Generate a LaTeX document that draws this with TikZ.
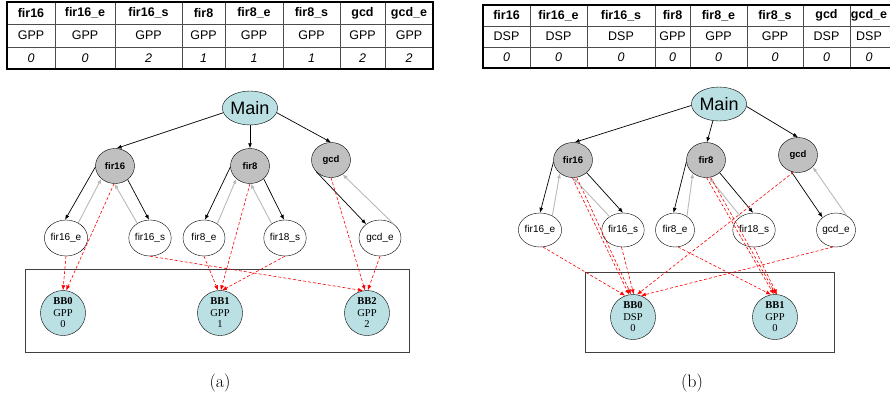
\documentclass[tikz,border=0pt]{standalone}
\usepackage{fontspec}
\newfontfamily\arialf{Liberation Sans}
\newfontfamily\timesf{Liberation Serif}
\usetikzlibrary{shapes.geometric,arrows.meta}
\definecolor{bbcyan}{RGB}{186,224,228}
\definecolor{taskgray}{RGB}{192,192,192}
\colorlet{backgray}{gray!55}
\tikzset{>={Latex[length=5pt,width=4pt]}}
\tikzset{
  mainnode/.style = {ellipse, draw, fill=bbcyan, inner sep=0pt, minimum width=40pt,
    minimum height=34pt, font=\arialf\fontsize{18}{20}\selectfont},
  tasknode/.style = {ellipse, draw, fill=taskgray, inner sep=0pt, minimum width=39pt,
    minimum height=35pt, font=\arialf\bfseries\fontsize{9.5}{11}\selectfont},
  subnode/.style = {ellipse, draw, fill=white, inner sep=0pt, minimum width=42pt,
    minimum height=36pt, font=\arialf\fontsize{10}{12}\selectfont},
  bbnode/.style = {circle, draw, fill=bbcyan, inner sep=0pt, minimum size=45pt,
    align=center, font=\timesf\fontsize{10.5}{11.5}\selectfont},
  call/.style = {->, line width=0.7pt},
  ret/.style = {->, backgray, line width=0.9pt},
  map/.style = {->, red, line width=0.6pt, dash pattern=on 3pt off 2pt},
  procbox/.style = {draw=black!75, line width=0.8pt},
  tabline/.style = {draw=black!70, line width=0.6pt},
  tabframe/.style = {draw=black, line width=1.4pt},
  tabhead/.style = {font=\arialf\bfseries\fontsize{12.5}{14}\selectfont},
  tabcell/.style = {font=\arialf\fontsize{12.5}{14}\selectfont},
  tabnum/.style = {font=\arialf\itshape\fontsize{12.5}{14}\selectfont},
  caption/.style = {font=\fontsize{18}{20}\selectfont}
}

\begin{document}
\begin{tikzpicture}[x=1pt,y=-1pt]
  \clip (0,0) rectangle (890,399);

  % mapping tables
  \foreach \y in {24,47} \draw[tabline] (7,\y) -- (433,\y);
  \foreach \x in {55,115,182,225,283,340,385} \draw[tabline] (\x,2) -- (\x,69);
  \draw[tabframe] (7,2) rectangle (433,69);
  \foreach \xa/\xb/\h/\p/\n [count=\i] in {7/55/fir16/GPP/0, 55/115/fir16\_e/GPP/0,
      115/182/fir16\_s/GPP/2, 182/225/fir8/GPP/1, 225/283/fir8\_e/GPP/1,
      283/340/fir8\_s/GPP/1, 340/385/gcd/GPP/2, 385/433/gcd\_e/GPP/2} {
    \node[tabhead] (ta-h\i) at ({(\xa+\xb)/2},13) {\h};
    \node[tabcell] (ta-p\i) at ({(\xa+\xb)/2},35.5) {\p};
    \node[tabnum] (ta-n\i) at ({(\xa+\xb)/2},58) {\n};
  }

  \foreach \y in {26,47} \draw[tabline] (483,\y) -- (900,\y);
  \foreach \x in {530,587,655,690,747,803,850} \draw[tabline] (\x,5) -- (\x,68);
  \draw[tabframe] (483,5) rectangle (900,68);
  \foreach \xa/\xb/\h/\p/\n [count=\i] in {483/530/fir16/DSP/0, 530/587/fir16\_e/DSP/0,
      587/655/fir16\_s/DSP/0, 655/690/fir8/GPP/0, 690/747/fir8\_e/GPP/0,
      747/803/fir8\_s/GPP/0, 803/850/gcd/DSP/0, 850/888/gcd\_e/DSP/0} {
    \node[tabhead] (tb-h\i) at ({(\xa+\xb)/2},15.5) {\h};
    \node[tabcell] (tb-p\i) at ({(\xa+\xb)/2},36.5) {\p};
    \node[tabnum] (tb-n\i) at ({(\xa+\xb)/2},57.5) {\n};
  }

  % (a)
  \draw[procbox] (25,269) rectangle (409,352);
  \node[mainnode] (mainA) at (250,108) {Main};
  \node[tasknode] (fir16A) at (115,166) {fir16};
  \node[tasknode] (fir8A) at (250,166) {fir8};
  \node[tasknode] (gcdA) at (331,160) {gcd};
  \node[subnode] (fir16eA) at (66,238) {fir16\_e};
  \node[subnode] (fir16sA) at (150,238) {fir16\_s};
  \node[subnode] (fir8eA) at (204,238) {fir8\_e};
  \node[subnode] (fir8sA) at (285,238) {fir18\_s};
  \node[subnode] (gcdeA) at (380,238) {gcd\_e};
  \node[bbnode] (bb0A) at (63,313) {\textbf{BB0}\\GPP\\0};
  \node[bbnode] (bb1A) at (220,313) {\textbf{BB1}\\GPP\\1};
  \node[bbnode] (bb2A) at (367,313) {\textbf{BB2}\\GPP\\2};

  \draw[call] (mainA.190) -- (fir16A.85);
  \draw[call] (mainA.270) -- (fir8A.90);
  \draw[call] (mainA.350) -- (gcdA.90);
  \draw[call] (fir16A.183) -- (fir16eA.93);
  \draw[ret] (fir16eA.51) -- (fir16A.223);
  \draw[call] (fir16A.313) -- (fir16sA.93);
  \draw[ret] (fir16sA.131) -- (fir16A.268);
  \draw[call] (fir8A.183) -- (fir8eA.87);
  \draw[ret] (fir8eA.47) -- (fir8A.223);
  \draw[call] (fir8A.317) -- (fir8sA.93);
  \draw[ret] (fir8sA.133) -- (fir8A.272);
  \draw[call] (gcdA.218) -- (gcdeA.135);
  \draw[ret] (gcdeA.45) -- (gcdA.309);

  \draw[map] (fir16eA.270) -- (bb0A.90);
  \draw[map] (fir16A.267) -- (bb0A.82);
  \draw[map] (fir16sA.270) -- (bb2A.100);
  \draw[map] (fir8eA.270) -- (bb1A.95);
  \draw[map] (fir8A.270) -- (bb1A.88);
  \draw[map] (fir8sA.270) -- (bb1A.85);
  \draw[map] (gcdA.270) -- (bb2A.95);
  \draw[map] (gcdeA.270) -- (bb2A.88);
  \node[caption] (capA) at (220,383) {(a)};

  % (b)
  \draw[procbox] (585,272) rectangle (834,352);
  \node[mainnode, minimum width=38pt] (mainB) at (719,104) {Main};
  \node[tasknode] (fir16B) at (573,160) {fir16};
  \node[tasknode] (fir8B) at (706,160) {fir8};
  \node[tasknode] (gcdB) at (798,155) {gcd};
  \node[subnode, minimum width=39pt, minimum height=34pt] (fir16eB) at (540,230) {fir16\_e};
  \node[subnode, minimum width=39pt, minimum height=34pt] (fir16sB) at (623,230) {fir16\_s};
  \node[subnode, minimum width=39pt, minimum height=34pt] (fir8eB) at (675,230) {fir8\_e};
  \node[subnode, minimum width=39pt, minimum height=34pt] (fir8sB) at (754,230) {fir18\_s};
  \node[subnode, minimum width=39pt, minimum height=34pt] (gcdeB) at (836,230) {gcd\_e};
  \node[bbnode] (bb0B) at (633,317) {\textbf{BB0}\\DSP\\0};
  \node[bbnode] (bb1B) at (775,317) {\textbf{BB1}\\GPP\\0};

  \draw[call] (mainB.183) -- (fir16B.85);
  \draw[call] (mainB.250) -- (fir8B.87);
  \draw[call] (mainB.355) -- (gcdB.90);
  \draw[call] (fir16B.186) -- (fir16eB.90);
  \draw[ret] (fir16eB.49) -- (fir16B.225);
  \draw[call] (fir16B.317) -- (fir16sB.90);
  \draw[ret] (fir16sB.135) -- (fir16B.270);
  \draw[call] (fir8B.185) -- (fir8eB.95);
  \draw[ret] (fir8eB.49) -- (fir8B.225);
  \draw[call] (fir8B.317) -- (fir8sB.93);
  \draw[ret] (fir8sB.135) -- (fir8B.280);
  \draw[call] (gcdB.248) -- (gcdeB.137);
  \draw[ret] (gcdeB.54) -- (gcdB.321);

  \draw[map] (fir16eB.280) -- (bb0B.110);
  \draw[map] (fir16B.268) -- (bb0B.100);
  \draw[map] (fir16B.282) -- (bb0B.95);
  \draw[map] (fir16sB.265) -- (bb0B.88);
  \draw[map] (gcdB.255) -- (bb0B.80);
  \draw[map] (gcdeB.260) -- (bb0B.70);
  \draw[map] (fir8eB.280) -- (bb1B.100);
  \draw[map] (fir8B.272) -- (bb1B.93);
  \draw[map] (fir8B.285) -- (bb1B.88);
  \draw[map] (fir8sB.270) -- (bb1B.85);
  \node[caption] (capB) at (692,383) {(b)};
\end{tikzpicture}
\end{document}
